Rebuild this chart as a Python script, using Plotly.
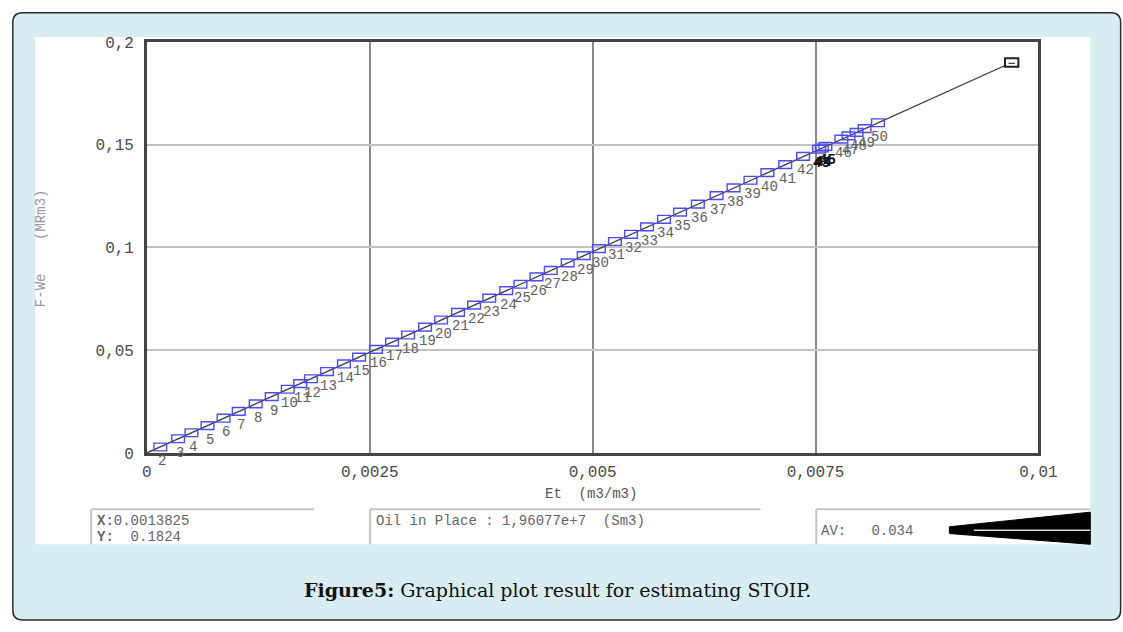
import plotly.graph_objects as go

# ---------------- data ----------------
point_ids = list(range(2, 51))
et_values = [0.00015, 0.00035, 0.00050, 0.00068, 0.00086, 0.00103, 0.00122, 0.00140,
             0.00158, 0.00172, 0.00184, 0.00202, 0.00221, 0.00238, 0.00257, 0.00275,
             0.00293, 0.00312, 0.00330, 0.00349, 0.00367, 0.00384, 0.00403, 0.00419,
             0.00437, 0.00453, 0.00472, 0.00490, 0.00507, 0.00525, 0.00543, 0.00561,
             0.00580, 0.00598, 0.00618, 0.00639, 0.00658, 0.00677, 0.00696, 0.00716,
             0.00736, 0.00754, 0.00757, 0.00761, 0.00779, 0.00787, 0.00796, 0.00805,
             0.00820]
fwe_values = [0.0029, 0.0069, 0.0098, 0.0133, 0.0169, 0.0202, 0.0239, 0.0274,
              0.0310, 0.0337, 0.0361, 0.0396, 0.0433, 0.0466, 0.0504, 0.0539,
              0.0574, 0.0612, 0.0647, 0.0684, 0.0719, 0.0753, 0.0790, 0.0821,
              0.0857, 0.0888, 0.0925, 0.0960, 0.0994, 0.1029, 0.1064, 0.1100,
              0.1137, 0.1172, 0.1211, 0.1252, 0.1290, 0.1327, 0.1364, 0.1403,
              0.1443, 0.1478, 0.1484, 0.1492, 0.1527, 0.1543, 0.1560, 0.1578,
              0.1607]
highlight_ids = [43, 44, 45]
fit_x = [0.0, 0.0097]
fit_y = [0.0, 0.190]
x_ticks = [0, 0.0025, 0.005, 0.0075, 0.01]
x_ticktext = ["0", "0,0025", "0,005", "0,0075", "0,01"]
y_ticks = [0, 0.05, 0.1, 0.15, 0.2]
y_ticktext = ["0", "0,05", "0,1", "0,15", "0,2"]
cursor_text = ["X:0.0013825", "Y:  0.1824"]
oip_text = "Oil in Place : 1,96077e+7  (Sm3)"
av_text = "AV:   0.034"
caption_bold = "Figure5:"
caption_rest = " Graphical plot result for estimating STOIP."

# ---------------- geometry helpers ----------------
W, H = 1123, 632
def PX(x):
    return x / W
def PY(y):
    return 1 - y / H

X0, X1 = 145, 1056
Y0, Y1 = 459, 36
MONO = "Liberation Mono"

fig = go.Figure()

fig.add_trace(go.Scatter(x=fit_x, y=fit_y, mode="lines",
                         line=dict(color="#3a3a3a", width=1.3), hoverinfo="skip",
                         showlegend=False))

shapes = []
annotations = []

hw = 6.5 / (X1 - X0) * 0.01
hh = 4.0 / (Y0 - Y1) * 0.2
for ex, fy in zip(et_values, fwe_values):
    shapes.append(dict(type="rect", xref="x", yref="y",
                       x0=ex - hw, x1=ex + hw, y0=fy - hh, y1=fy + hh,
                       line=dict(color="#4a4aff", width=1.4), layer="above"))

shapes.append(dict(type="rect", xref="x", yref="y",
                   x0=fit_x[1] - hw * 1.05, x1=fit_x[1] + hw * 1.05,
                   y0=fit_y[1] - hh * 1.1, y1=fit_y[1] + hh * 1.1,
                   line=dict(color="#222222", width=2), fillcolor="white", layer="above"))
shapes.append(dict(type="line", xref="x", yref="y",
                   x0=fit_x[1] - hw * 0.5, x1=fit_x[1] + hw * 0.5,
                   y0=fit_y[1] - hh * 0.2, y1=fit_y[1] - hh * 0.2,
                   line=dict(color="#444", width=1.2), layer="above"))

for pid, ex, fy in zip(point_ids, et_values, fwe_values):
    black = pid in highlight_ids
    annotations.append(dict(x=ex, y=fy, xref="x", yref="y", text=str(pid),
                            showarrow=False, xshift=2, yshift=-14,
                            xanchor="center", yanchor="middle",
                            font=dict(family=MONO, size=14,
                                      color="#111111" if black else "#606060",
                                      weight="bold" if black else "normal")))

# outer rounded frame (right and bottom edges run off the picture)
r = 10
fx0, fy0, fx1, fy1 = 8, 6, 1140, 631
path = (f"M {PX(fx0 + r)},{PY(fy0)} L {PX(fx1 - r)},{PY(fy0)} "
        f"Q {PX(fx1)},{PY(fy0)} {PX(fx1)},{PY(fy0 + r)} "
        f"L {PX(fx1)},{PY(fy1 - r)} Q {PX(fx1)},{PY(fy1)} {PX(fx1 - r)},{PY(fy1)} "
        f"L {PX(fx0 + r)},{PY(fy1)} Q {PX(fx0)},{PY(fy1)} {PX(fx0)},{PY(fy1 - r)} "
        f"L {PX(fx0)},{PY(fy0 + r)} Q {PX(fx0)},{PY(fy0)} {PX(fx0 + r)},{PY(fy0)} Z")
shapes.append(dict(type="path", xref="paper", yref="paper", path=path,
                   fillcolor="#d7edf1", line=dict(color="#2b2b2b", width=1.5), layer="below"))
shapes.append(dict(type="rect", xref="paper", yref="paper",
                   x0=PX(31), x1=PX(1109), y0=PY(553), y1=PY(31),
                   fillcolor="white", line=dict(width=0), layer="below"))

for bx0, bx1 in [(88, 316), (373, 772), (829, 1109)]:
    shapes.append(dict(type="line", xref="paper", yref="paper",
                       x0=PX(bx0), x1=PX(bx1), y0=PY(517), y1=PY(517),
                       line=dict(color="#c4c4c4", width=2), layer="below"))
    shapes.append(dict(type="line", xref="paper", yref="paper",
                       x0=PX(bx0), x1=PX(bx0), y0=PY(517), y1=PY(553),
                       line=dict(color="#c4c4c4", width=2), layer="below"))

wedge = (f"M {PX(965)},{PY(535)} L {PX(1109)},{PY(520)} L {PX(1109)},{PY(553)} "
         f"L {PX(965)},{PY(542)} Z")
shapes.append(dict(type="path", xref="paper", yref="paper", path=wedge,
                   fillcolor="#000000", line=dict(color="#000000", width=1), layer="below"))
shapes.append(dict(type="line", xref="paper", yref="paper",
                   x0=PX(990), x1=PX(1109), y0=PY(538.5), y1=PY(538.5),
                   line=dict(color="#d8d8d8", width=1.5), layer="below"))

def note(x, y, text, font, xanchor="center", angle=0):
    annotations.append(dict(x=PX(x), y=PY(y), xref="paper", yref="paper",
                            text=text, showarrow=False, xanchor=xanchor,
                            yanchor="middle", textangle=angle, font=font))

note(599, 501, "Et  (m3/m3)", dict(family=MONO, size=14, color="#555"))
note(37, 248, "F-We    (MRm3)", dict(family=MONO, size=14, color="#999"), angle=-90)
info_font = dict(family=MONO, size=14, color="#666")
note(92, 529, f"<b>{cursor_text[0][:2]}</b>{cursor_text[0][2:]}", info_font, "left")
note(92, 546, f"<b>{cursor_text[1][:2]}</b>{cursor_text[1][2:]}", info_font, "left")
note(377, 529, oip_text, info_font, "left")
note(832, 539, av_text, info_font, "left")
note(565, 600, f"<b>{caption_bold}</b>{caption_rest}",
     dict(family="DejaVu Serif", size=19, color="#111"))

axis_font = dict(family=MONO, size=16, color="#4a4a4a")
fig.update_layout(
    autosize=True,
    margin=dict(l=0, r=0, t=0, b=0),
    paper_bgcolor="white",
    plot_bgcolor="rgba(0,0,0,0)",
    showlegend=False,
    shapes=shapes,
    annotations=annotations,
    xaxis=dict(domain=[PX(X0), PX(X1)], range=[0, 0.01],
               tickvals=x_ticks, ticktext=x_ticktext, tickfont=axis_font,
               showgrid=True, gridcolor="#8a8a8a", gridwidth=2,
               showline=True, linecolor="#444", linewidth=2.5, mirror=True,
               zeroline=False, ticks="", ticklabelstandoff=2, fixedrange=True),
    yaxis=dict(domain=[PY(Y0), PY(Y1)], range=[0, 0.2],
               tickvals=y_ticks, ticktext=y_ticktext, tickfont=axis_font,
               showgrid=True, gridcolor="#c2c2c2", gridwidth=2,
               showline=True, linecolor="#444", linewidth=2.5, mirror=True,
               zeroline=False, ticks="", ticklabelstandoff=7, fixedrange=True),
)

post = ("var gd=document.getElementById('{plot_id}');"
        "var de=document.documentElement, b=document.body;"
        "de.style.margin='0'; de.style.height='100%'; de.style.overflow='hidden';"
        "b.style.margin='0'; b.style.padding='0'; b.style.height='100%'; b.style.overflow='hidden';"
        "if(gd){gd.parentElement.style.height='100%'; gd.parentElement.style.width='100%';"
        "gd.style.width='100vw'; gd.style.height='100vh'; gd.style.display='block';"
        "Plotly.Plots.resize(gd);}")
fig.write_html("out.html", post_script=post, config={"displayModeBar": False,
                                                     "responsive": True},
               default_width="100vw", default_height="100vh")
